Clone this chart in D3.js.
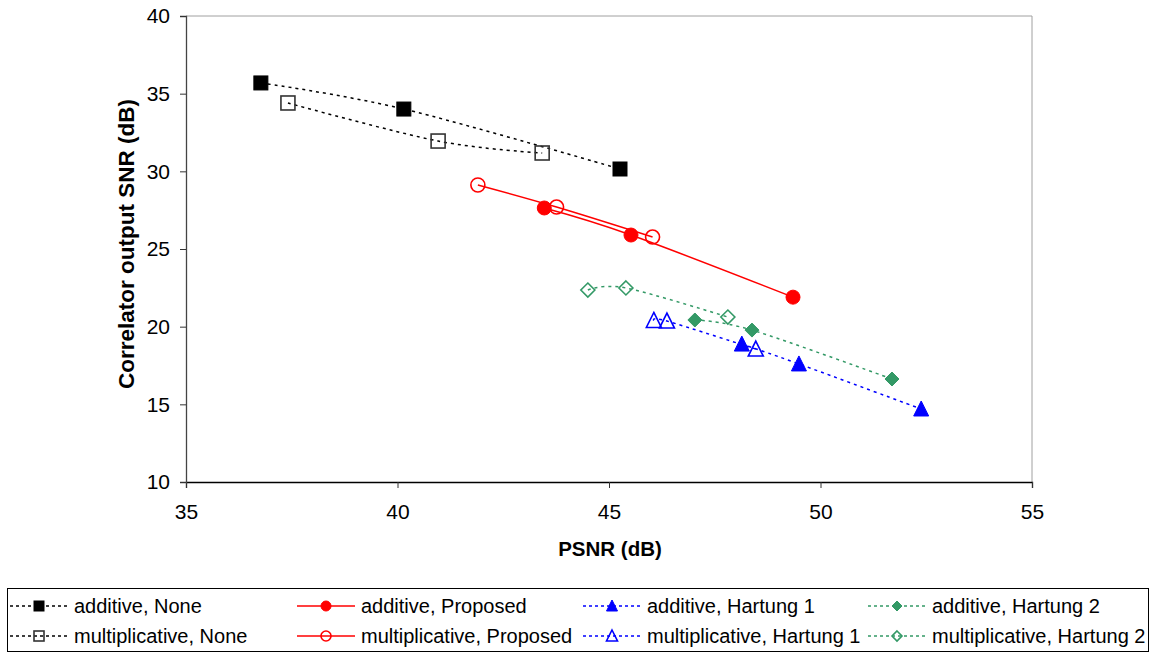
<!DOCTYPE html>
<html><head><meta charset="utf-8">
<script src="https://cdn.jsdelivr.net/npm/d3@7"></script>
<style>body{margin:0;background:#fff;} svg{display:block;font-family:"Liberation Sans",Arial,sans-serif;}</style>
</head><body><svg id="c" width="1154" height="654"></svg>
<script>
const xTicks = [35, 40, 45, 50, 55];
const yTicks = [10, 15, 20, 25, 30, 35, 40];
const seriesNames = ["additive, None","multiplicative, None","additive, Proposed","multiplicative, Proposed","additive, Hartung 1","multiplicative, Hartung 1","additive, Hartung 2","multiplicative, Hartung 2"];
const addNone = [[36.77,35.69],[40.15,34.01],[45.26,30.15]];
const mulNone = [[37.41,34.40],[40.96,31.95],[43.42,31.18]];
const addProp = [[43.47,27.64],[45.52,25.90],[49.35,21.90]];
const mulProp = [[41.90,29.12],[43.76,27.70],[46.03,25.77]];
const addH1 = [[48.14,18.88],[49.49,17.60],[52.38,14.70]];
const mulH1 = [[46.06,20.40],[46.37,20.36],[48.47,18.56]];
const addH2 = [[47.03,20.43],[48.38,19.78],[51.69,16.63]];
const mulH2 = [[44.50,22.36],[45.40,22.49],[47.81,20.62]];

const svg = d3.select("#c");
const L=186, R=1032, T=16, B=482;
const x = d3.scaleLinear().domain([35,55]).range([L,R]);
const y = d3.scaleLinear().domain([10,40]).range([B,T]);
const green="#339966";
const styles = [
  {data:addNone,color:"#000",dash:"3,4",shape:"square",fill:true},
  {data:mulNone,color:"#000",dash:"3,4",shape:"square",fill:false},
  {data:addProp,color:"#ff0000",dash:null,shape:"circle",fill:true},
  {data:mulProp,color:"#ff0000",dash:null,shape:"circle",fill:false},
  {data:addH1,color:"#0000ff",dash:"3,4",shape:"triangle",fill:true},
  {data:mulH1,color:"#0000ff",dash:"3,4",shape:"triangle",fill:false},
  {data:addH2,color:green,dash:"3,4",shape:"diamond",fill:true},
  {data:mulH2,color:green,dash:"3,4",shape:"diamond",fill:false}
];

// borders
svg.append("line").attr("x1",L).attr("x2",R).attr("y1",T).attr("y2",T).attr("stroke","#a0a0a0");
svg.append("line").attr("x1",R).attr("x2",R).attr("y1",T).attr("y2",B).attr("stroke","#a0a0a0");

const xa = svg.append("g").attr("transform",`translate(0,${B})`)
  .call(d3.axisBottom(x).tickValues(xTicks).tickSize(6).tickPadding(16).tickFormat(d3.format("d")));
const ya = svg.append("g").attr("transform",`translate(${L},0)`)
  .call(d3.axisLeft(y).tickValues(yTicks).tickSize(6).tickPadding(10).tickFormat(d3.format("d")));
[xa,ya].forEach(a=>{
  a.selectAll("text").attr("font-size",21).attr("fill","#000").attr("font-family","Liberation Sans, Arial, sans-serif");
  a.selectAll("line").attr("stroke","#333");
});
xa.select(".domain").attr("stroke","#000").attr("stroke-width",1.3);
ya.select(".domain").attr("stroke","#444").attr("stroke-width",1.3);

svg.append("text").attr("x",610).attr("y",556).attr("text-anchor","middle")
  .attr("font-size",20.5).attr("font-weight","bold").text("PSNR (dB)");
svg.append("text").attr("transform",`translate(134,244) rotate(-90)`).attr("text-anchor","middle")
  .attr("font-size",22.5).attr("font-weight","bold").text("Correlator output SNR (dB)");

function marker(g, shape, fill, color, cx, cy, s){
  let el;
  if(shape==="square"){
    el = g.append("rect").attr("x",cx-s/2).attr("y",cy-s/2).attr("width",s).attr("height",s);
  } else if(shape==="circle"){
    el = g.append("circle").attr("cx",cx).attr("cy",cy).attr("r",s/2);
  } else if(shape==="triangle"){
    const h=s;
    el = g.append("path").attr("d",`M${cx},${cy-h/2-1}L${cx+s/2+0.5},${cy+h/2}L${cx-s/2-0.5},${cy+h/2}Z`);
  } else {
    const r=s/2;
    el = g.append("path").attr("d",`M${cx},${cy-r}L${cx+r},${cy}L${cx},${cy+r}L${cx-r},${cy}Z`);
  }
  if(fill) el.attr("fill",color).attr("stroke",color).attr("stroke-width",1);
  else el.attr("fill","none").attr("stroke",shape==="square"?"#333":color).attr("stroke-width",1.6);
}

const line = d3.line().x(d=>x(d[0])).y(d=>y(d[1])).curve(d3.curveCatmullRom.alpha(0));
styles.forEach(s=>{
  svg.append("path").datum(s.data).attr("d",line).attr("fill","none")
    .attr("stroke",s.color).attr("stroke-width",1.5).attr("stroke-dasharray",s.dash);
});
styles.forEach(s=>{
  const g=svg.append("g");
  s.data.forEach(d=>marker(g,s.shape,s.fill,s.color,x(d[0]),y(d[1]),14));
});

// legend
svg.append("rect").attr("x",7.5).attr("y",588.5).attr("width",1141).attr("height",63)
  .attr("fill","none").attr("stroke","#000").attr("stroke-width",1);
const colX=[10,297,583,868];
const rowY=[606,636];
styles.forEach((s,i)=>{
  const cx=colX[Math.floor(i/2)], cy=rowY[i%2];
  const g=svg.append("g");
  g.append("line").attr("x1",cx).attr("x2",cx+58).attr("y1",cy).attr("y2",cy)
    .attr("stroke",s.color).attr("stroke-width",1.3).attr("stroke-dasharray",s.dash?"3,3":null);
  marker(g,s.shape,s.fill,s.color,cx+29,cy,10);
  g.append("text").attr("x",cx+64).attr("y",cy+7).attr("font-size",20).attr("fill","#000").text(seriesNames[i]);
});
</script></body></html>
